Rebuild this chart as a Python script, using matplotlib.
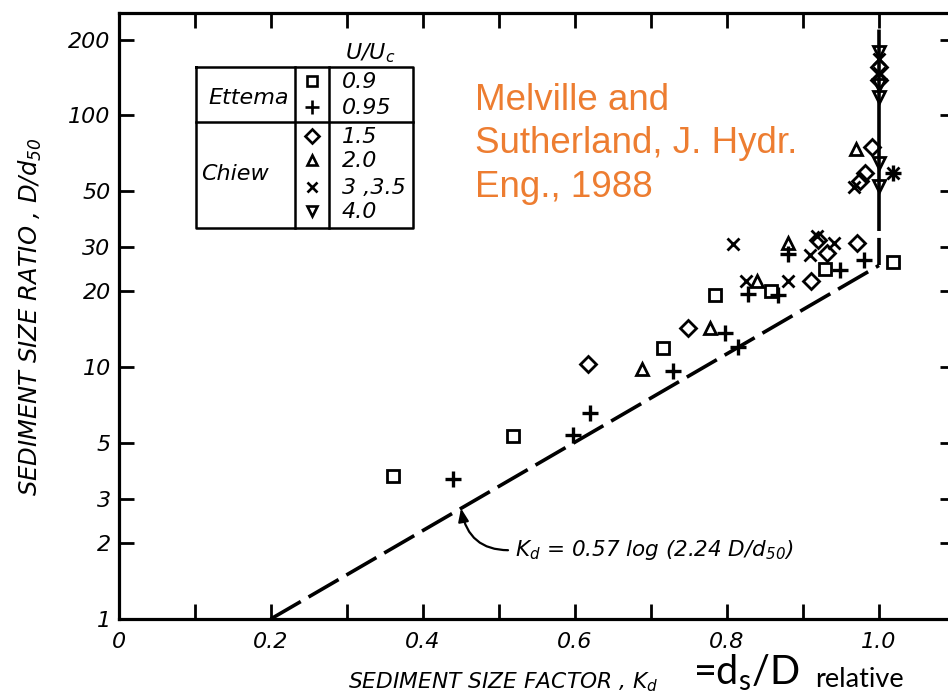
import numpy as np
import matplotlib
matplotlib.use("Agg")
import matplotlib.pyplot as plt
from matplotlib.lines import Line2D
from matplotlib.ticker import FixedLocator, FixedFormatter, NullFormatter
from matplotlib.transforms import Affine2D

plt.rcParams['font.family'] = ['DejaVu Sans']
plt.rcParams['mathtext.default'] = 'regular'
plt.rcParams['lines.scale_dashes'] = False

# ---- measured data: sediment size factor Kd vs. sediment size ratio D/d50 ----
# Ettema, U/Uc = 0.9
ettema_090_kd = [0.361, 0.518, 0.716, 0.784, 0.858, 0.929, 1.018]
ettema_090_ratio = [3.70, 5.34, 11.9, 19.4, 20.1, 24.6, 26.2]
# Ettema, U/Uc = 0.95
ettema_095_kd = [0.439, 0.597, 0.620, 0.729, 0.797, 0.814, 0.828, 0.867, 0.880, 0.949, 0.980, 1.018]
ettema_095_ratio = [3.60, 5.39, 6.59, 9.67, 13.7, 12.0, 19.5, 19.4, 28.2, 24.3, 26.7, 59.0]
# Chiew, U/Uc = 1.5
chiew_15_kd = [0.617, 0.749, 0.911, 0.920, 0.932, 0.971, 0.991, 0.982, 0.975, 1.0, 1.0]
chiew_15_ratio = [10.3, 14.3, 21.9, 32.0, 28.4, 31.1, 74.8, 58.8, 54.9, 155, 138]
# Chiew, U/Uc = 2.0
chiew_20_kd = [0.688, 0.778, 0.839, 0.880, 0.970]
chiew_20_ratio = [9.8, 14.3, 22.0, 31.1, 73.8]
# Chiew, U/Uc = 3, 3.5
chiew_30_kd = [0.808, 0.825, 0.880, 0.909, 0.918, 0.941, 0.967, 1.018, 1.0, 1.0]
chiew_30_ratio = [30.8, 22.0, 22.0, 27.8, 33.3, 31.1, 51.9, 59.0, 167, 147]
# Chiew, U/Uc = 4.0
chiew_40_kd = [1.0, 1.0, 1.0, 1.0, 1.0]
chiew_40_ratio = [178, 132, 118, 64.4, 52.4]

# design curve Kd = 0.57 log(2.24 D/d50), capped at Kd = 1
COEF_A = 0.57
COEF_B = 2.24
RATIO_MIN = 1.0
RATIO_MAX = 220.0

# axis ticks
y_ticks = [1, 2, 3, 5, 10, 20, 30, 50, 100, 200]
y_ticklabels = ['1', '2', '3', '5', '10', '20', '30', '50', '100', '200']
x_major = [0.0, 0.2, 0.4, 0.6, 0.8, 1.0]
x_major_labels = ['0', '0.2', '0.4', '0.6', '0.8', '1.0']
x_minor = [0.1, 0.3, 0.5, 0.7, 0.9]

# legend table contents
legend_groups = ['Ettema', 'Chiew']
legend_values = ['0.9', '0.95', '1.5', '2.0', '3 ,3.5', '4.0']
legend_markers = ['s', '+', 'D', '^', 'x', 'v']

FS = 16
W, H = 948, 698
fig = plt.figure(figsize=(W / 100, H / 100), dpi=100)
fig.patch.set_facecolor('white')
# pixel coordinates measured from the top-left corner of the figure
px = Affine2D().scale(1 / W, -1 / H).translate(0, 1) + fig.transFigure

ax = fig.add_axes([119 / W, 79 / H, 836 / W, 606 / H])
ax.set_yscale('log')
ax.set_xlim(0, 1.1)
ax.set_ylim(1, 255)

for s in ax.spines.values():
    s.set_linewidth(2.3)

ax.yaxis.set_major_locator(FixedLocator(y_ticks))
ax.yaxis.set_major_formatter(FixedFormatter(y_ticklabels))
ax.yaxis.set_minor_locator(FixedLocator([]))
ax.yaxis.set_minor_formatter(NullFormatter())
ax.xaxis.set_major_locator(FixedLocator(x_major))
ax.xaxis.set_major_formatter(FixedFormatter(x_major_labels))
ax.xaxis.set_minor_locator(FixedLocator(x_minor))

ax.tick_params(which='both', direction='in', length=11, width=2.0,
               top=True, right=True, labelsize=FS)
ax.tick_params(axis='x', pad=9)
ax.tick_params(axis='y', pad=6)
for lbl in ax.get_xticklabels() + ax.get_yticklabels():
    lbl.set_fontstyle('oblique')

# design line
r_knee = 10 ** (1.0 / COEF_A) / COEF_B
r_slant = np.array([RATIO_MIN, r_knee])
kd_slant = COEF_A * np.log10(COEF_B * r_slant)
ax.plot(kd_slant, r_slant, color='black', lw=2.6, dashes=(25, 6.5),
        solid_capstyle='butt', dash_capstyle='butt', zorder=2)
ax.plot([1.0, 1.0], [r_knee, RATIO_MAX], color='black', lw=2.6,
        dashes=(19.5, 5, 145, 5), dash_capstyle='butt', zorder=2)

mk = dict(linestyle='none', color='black', markerfacecolor='none',
          markeredgewidth=2.0, zorder=3, clip_on=False)
ax.plot(ettema_090_kd, ettema_090_ratio, marker='s', markersize=8, **mk)
ax.plot(ettema_095_kd, ettema_095_ratio, marker='+', markersize=11, markeredgewidth=2.4,
        **{k: v for k, v in mk.items() if k != 'markeredgewidth'})
ax.plot(chiew_15_kd, chiew_15_ratio, marker='D', markersize=8, **mk)
ax.plot(chiew_20_kd, chiew_20_ratio, marker='^', markersize=8, **mk)
ax.plot(chiew_30_kd, chiew_30_ratio, marker='x', markersize=9, **mk)
ax.plot(chiew_40_kd, chiew_40_ratio, marker='v', markersize=8, **mk)

# equation label with curved leader
r_anno = 2.75
kd_anno = COEF_A * np.log10(COEF_B * r_anno)
ax.annotate('K$_d$ = 0.57 log (2.24 D/d$_{50}$)', xy=(kd_anno, r_anno),
            xytext=(0.521, 1.88), ha='left', va='center', fontsize=FS - 0.5,
            fontstyle='oblique',
            arrowprops=dict(arrowstyle='-|>,head_length=0.5,head_width=0.2',
                            connectionstyle='arc3,rad=-0.45', color='black', lw=1.6,
                            relpos=(0.0, 0.5), shrinkA=3, shrinkB=0))

# axis titles
fig.text(30 / W, 1 - 317 / H, 'SEDIMENT SIZE RATIO , D/d$_{50}$', rotation=90,
         ha='center', va='center', fontsize=17.5, fontstyle='oblique')
fig.text(348 / W, 1 - 688 / H, 'SEDIMENT SIZE FACTOR , K$_d$', ha='left',
         va='baseline', fontsize=15.7, fontstyle='oblique')
fig.text(693 / W, 1 - 685 / H, '=d$_s$/D', ha='left', va='baseline',
         fontsize=28.5, family='Lato')
fig.text(815 / W, 1 - 687 / H, 'relative', ha='left', va='baseline',
         fontsize=19.5, family='Lato')

# source note
source_lines = ['Melville and', 'Sutherland, J. Hydr.', 'Eng., 1988']
for line, base in zip(source_lines, [110, 153, 197]):
    fig.text(475 / W, 1 - base / H, line, ha='left', va='baseline',
             fontsize=26.5, family='Liberation Sans', color='#ED7D31')

# legend table
tbl = dict(color='black', lw=1.8, transform=px, clip_on=False)
ax.add_line(Line2D([196, 413, 413, 196, 196], [67, 67, 228, 228, 67], **tbl))
ax.add_line(Line2D([196, 413], [122, 122], **tbl))
ax.add_line(Line2D([295, 295], [67, 228], **tbl))
ax.add_line(Line2D([329, 329], [67, 228], **tbl))
fig.text(370 / W, 1 - 53 / H, 'U/U$_c$', ha='center', va='center',
         fontsize=FS, fontstyle='oblique')
fig.text(249 / W, 1 - 98 / H, legend_groups[0], ha='center', va='center',
         fontsize=FS, fontstyle='oblique')
fig.text(235 / W, 1 - 174 / H, legend_groups[1], ha='center', va='center',
         fontsize=FS, fontstyle='oblique')
row_y = [81, 107, 136, 160, 187, 211]
for m, val, yy in zip(legend_markers, legend_values, row_y):
    size = 10 if m == '+' else 7 if m in ('D',) else 6.5
    ax.add_line(Line2D([312], [yy], marker=m, markersize=size, color='black',
                       markerfacecolor='none', markeredgewidth=1.9,
                       linestyle='none', transform=px, clip_on=False))
    fig.text(342 / W, 1 - (yy + 1) / H, val, ha='left', va='center',
             fontsize=FS, fontstyle='oblique')

fig.savefig('out.png', dpi=100)
